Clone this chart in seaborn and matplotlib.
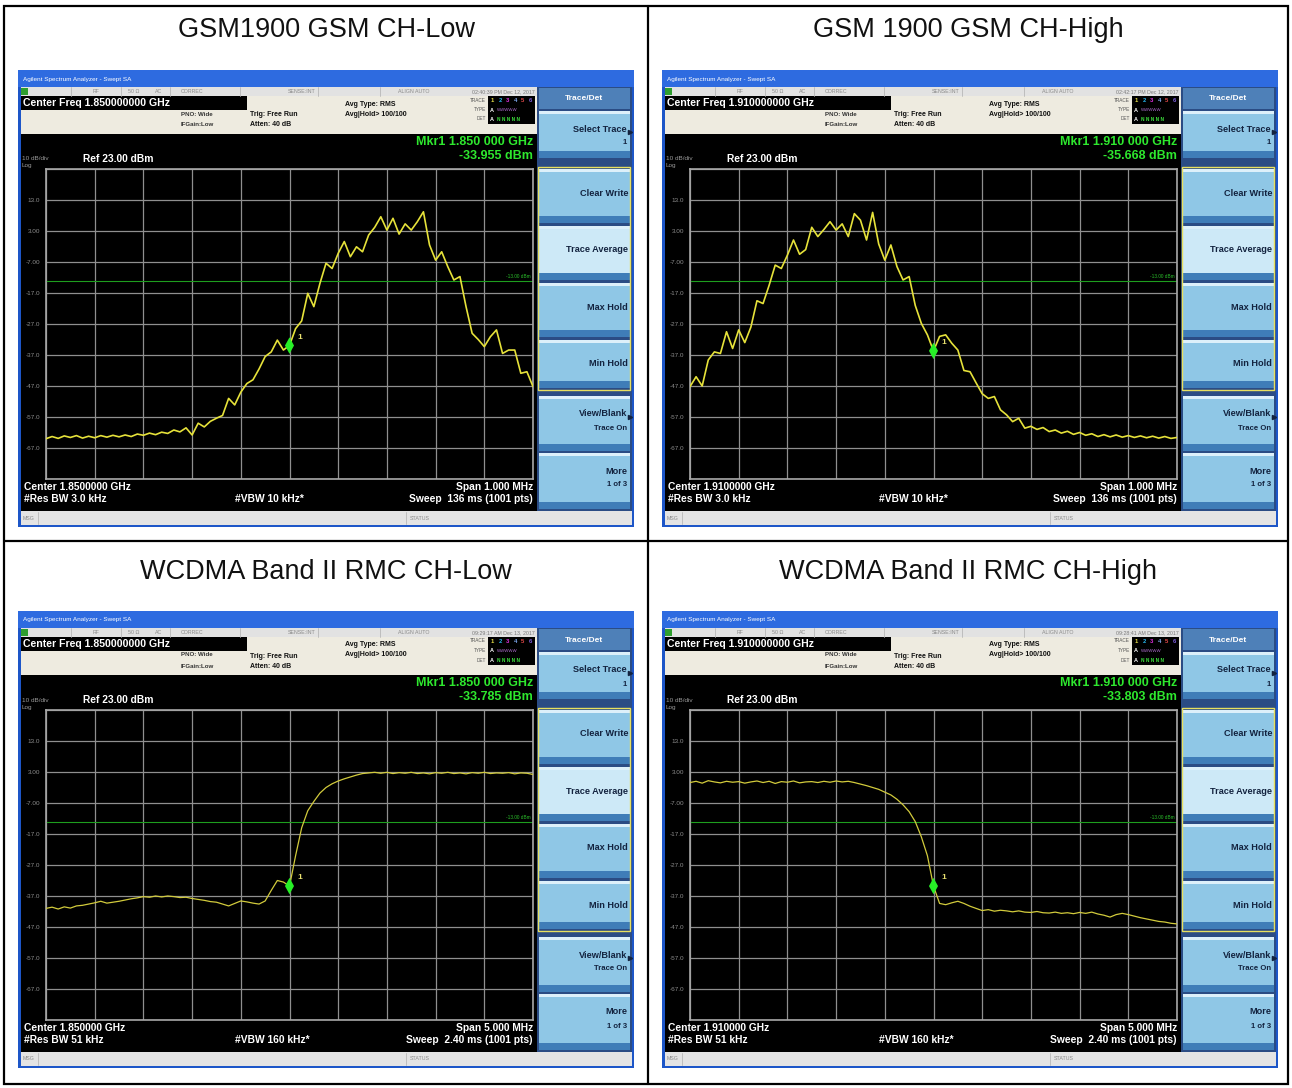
import numpy as np
import pandas as pd
import matplotlib
matplotlib.use("Agg")
import matplotlib.pyplot as plt
from matplotlib.patches import Rectangle
import seaborn as sns

# ---- values ----
titles = ["GSM1900 GSM CH-Low", "GSM 1900 GSM CH-High",
          "WCDMA Band II RMC CH-Low", "WCDMA Band II RMC CH-High"]
center_ghz = [1.85, 1.91, 1.85, 1.91]
span_mhz = [1.0, 1.0, 5.0, 5.0]
center_freq_text = ["1.850000000 GHz", "1.910000000 GHz", "1.850000000 GHz", "1.910000000 GHz"]
center_text = ["1.8500000 GHz", "1.9100000 GHz", "1.850000 GHz", "1.910000 GHz"]
timestamps = ["02:40:39 PM Dec 12, 2017", "02:42:17 PM Dec 12, 2017",
              "09:29:17 AM Dec 13, 2017", "09:28:41 AM Dec 13, 2017"]
mkr_freq_text = ["1.850 000 GHz", "1.910 000 GHz", "1.850 000 GHz", "1.910 000 GHz"]
mkr_dbm = [-33.955, -35.668, -33.785, -33.803]
rbw_text = ["3.0 kHz", "3.0 kHz", "51 kHz", "51 kHz"]
vbw_text = ["10 kHz*", "10 kHz*", "160 kHz*", "160 kHz*"]
sweep_text = ["136 ms (1001 pts)", "136 ms (1001 pts)", "2.40 ms (1001 pts)", "2.40 ms (1001 pts)"]
ref_level = 23.0
db_per_div = 10
limit_dbm = -13.0
ytick_labels = ["", "13.0", "3.00", "-7.00", "-17.0", "-27.0", "-37.0", "-47.0", "-57.0", "-67.0", ""]

# trace levels (dBm), sampled every 1/8 division across the span
gsm_low = [-64.0, -63.3, -63.9, -63.1, -63.6, -63.0, -63.8, -63.2,
           -63.7, -63.0, -63.5, -62.9, -63.4, -62.8, -63.3, -62.5,
           -62.9, -62.2, -62.7, -61.9, -62.3, -61.2, -61.8, -60.5,
           -62.8, -59.0, -60.2, -58.4, -57.4, -56.5, -51.0, -53.1,
           -49.0, -46.2, -45.0, -41.5, -37.5, -36.0, -32.2, -35.4,
           -33.9, -28.5, -26.0, -17.1, -21.4, -13.9, -7.4, -9.1,
           -4.2, -0.4, -5.3, -2.1, -3.7, 1.7, 4.2, 7.6,
           3.3, 7.1, 2.0, 5.3, 3.3, 6.0, 9.2, -1.5,
           -6.4, -3.7, -8.5, -12.8, -11.7, -21.4, -30.0, -32.0,
           -34.3, -31.1, -28.9, -36.5, -35.4, -35.4, -42.9, -42.4,
           -47.2]
gsm_high = [-47.2, -44.0, -47.0, -38.6, -36.0, -36.5, -29.5, -34.9,
            -28.9, -33.0, -28.0, -19.5, -20.4, -14.5, -8.0, -9.1,
            -4.8, 0.1, -4.5, -3.0, 4.2, 1.2, 3.5, 6.0,
            3.3, 5.3, 1.2, 8.6, 6.5, 0.1, 9.0, -1.2,
            -6.4, -1.5, -8.5, -12.8, -11.7, -21.0, -26.8, -30.5,
            -35.7, -31.0, -30.5, -33.2, -35.4, -42.0, -42.4, -46.0,
            -49.5, -51.0, -50.4, -54.7, -56.3, -58.5, -57.4, -60.6,
            -60.0, -61.0, -60.4, -61.7, -61.2, -62.2, -61.6, -62.6,
            -62.0, -62.9, -62.4, -63.3, -62.7, -63.4, -62.8, -63.5,
            -63.0, -63.6, -63.1, -63.7, -63.2, -63.8, -63.3, -63.9,
            -63.6]
wcdma_low = [-41.0, -40.6, -41.2, -40.5, -40.9, -40.2, -40.0, -39.6,
             -39.2, -38.7, -39.3, -39.0, -38.7, -38.3, -37.9, -37.6,
             -37.2, -37.4, -37.0, -37.3, -37.0, -37.2, -37.5, -37.4,
             -37.8, -38.1, -38.4, -38.8, -39.0, -39.6, -40.2, -39.4,
             -38.6, -38.9, -39.3, -39.6, -38.6, -35.2, -32.0, -32.5,
             -33.8, -24.0, -15.0, -9.5, -6.5, -3.8, -2.0, -0.8,
             0.1, 0.8, 1.4, 2.0, 2.5, 2.7, 2.9, 2.6,
             2.9, 2.5, 2.8, 2.6, 2.9, 2.5, 2.7, 2.4,
             2.8, 2.6, 2.9, 2.5, 2.7, 2.4, 2.8, 2.6,
             2.9, 2.5, 2.7, 2.6, 2.8, 2.4, 2.7, 2.6,
             2.2]
wcdma_high = [-0.4, 0.0, -0.6, 0.2, -0.2, -0.5, 0.0, -0.3,
              -0.1, -0.6, -0.2, 0.1, -0.4, 0.0, -0.7, -0.1,
              -0.3, 0.1, -0.5, -0.2, -0.1, -0.4, 0.0, -0.3,
              0.1, -0.2, 0.0, -0.4, -0.9, -1.4, -2.0, -2.6,
              -3.5, -4.4, -5.8, -7.6, -9.8, -13.0, -17.9, -24.0,
              -33.8, -39.4, -39.8, -39.2, -38.7, -39.4, -40.3, -41.0,
              -41.7, -41.4, -41.9, -41.6, -41.8, -42.1, -41.8, -42.2,
              -42.3, -42.0, -42.4, -42.5, -42.2, -42.6, -42.4, -42.7,
              -42.3, -42.6, -42.2, -42.8, -43.2, -43.8, -43.0, -42.6,
              -43.0, -43.5, -44.0, -44.4, -44.8, -45.2, -45.4, -45.8,
              -46.0]
traces = [gsm_low, gsm_high, wcdma_low, wcdma_high]
trace_colors = ["#E6E23A", "#E6E23A", "#D2CB3C", "#D2CB3C"]
trace_widths = [1.2, 1.2, 0.9, 0.9]

# ---- page layout (pixels) ----
W, H = 1292, 1088
origins = [(18, 70), (662, 70), (18, 611), (662, 611)]
title_pos = [(326, 30), (968, 30), (326, 572), (968, 572)]

sns.set_theme(style="white")
plt.rcParams['font.family'] = ['Liberation Sans', 'DejaVu Sans']

fig = plt.figure(figsize=(W / 100, H / 100), dpi=100)
bg = fig.add_axes([0, 0, 1, 1])
bg.set_xlim(0, W)
bg.set_ylim(H, 0)
bg.axis("off")


def rect(x, y, w, h, fc, ec="none", lw=0, fill=True, z=1):
    bg.add_patch(Rectangle((x, y), w, h, facecolor=fc if fill else "none",
                           edgecolor=ec, linewidth=lw, zorder=z))


def txt(x, y, s, size, color, weight="normal", ha="left"):
    bg.text(x, y, s, fontsize=size, color=color, fontweight=weight,
            ha=ha, va="center", zorder=5)


# table frame
bg.add_patch(Rectangle((4, 6), 1284, 1078, fill=False, edgecolor="black", linewidth=1.6))
bg.plot([648, 648], [6, 1084], color="black", lw=1.6)
bg.plot([4, 1288], [541, 541], color="black", lw=1.6)
for (tx, ty), t in zip(title_pos, titles):
    bg.text(tx, ty, t, fontsize=19.5, ha="center", va="center", color="#111111")

buttons = [(41, 47, "Select Trace", "1", True, "#8FC7E6"),
           (99, 54, "Clear Write", "", False, "#8FC7E6"),
           (156, 54, "Trace Average", "", False, "#CDE9F7"),
           (213, 54, "Max Hold", "", False, "#8FC7E6"),
           (270, 48, "Min Hold", "", False, "#8FC7E6"),
           (326, 55, "View/Blank", "Trace On", True, "#8FC7E6"),
           (383, 56, "More", "1 of 3", False, "#8FC7E6")]

for i, (ox, oy) in enumerate(origins):
    # window chrome
    rect(ox, oy, 616, 457, "#1D56C8")
    rect(ox, oy, 616, 17, "#2E6BE0")
    txt(ox + 5, oy + 9, "Agilent Spectrum Analyzer - Swept SA", 4.6, "white")
    rect(ox + 3, oy + 17, 516, 9, "#E2E2E2")
    rect(ox + 3, oy + 18, 7, 7, "#2E9E2E")
    for sx in [53, 103, 152, 222, 300, 362]:
        bg.plot([ox + sx, ox + sx], [oy + 17, oy + 26], color="#B8B8B8", lw=0.6, zorder=2)
    for sx, s in [(75, "RF"), (110, "50 \u03a9"), (137, "AC"), (163, "CORREC"),
                  (270, "SENSE:INT"), (380, "ALIGN AUTO")]:
        txt(ox + sx, oy + 21.5, s, 3.8, "#8A8A8A")
    txt(ox + 517, oy + 21.5, timestamps[i], 3.8, "#7A7A7A", ha="right")

    # settings area
    rect(ox + 3, oy + 26, 516, 38, "#EEEBE0")
    rect(ox + 3, oy + 26, 226, 14, "black")
    txt(ox + 5, oy + 33, "Center Freq " + center_freq_text[i], 7.6, "white", "bold")
    txt(ox + 163, oy + 44, "PNO: Wide", 4.4, "#333333", "bold")
    txt(ox + 163, oy + 55, "IFGain:Low", 4.4, "#333333", "bold")
    txt(ox + 232, oy + 45, "Trig: Free Run", 5.0, "#111111", "bold")
    txt(ox + 232, oy + 55, "Atten: 40 dB", 5.0, "#111111", "bold")
    txt(ox + 327, oy + 34, "Avg Type: RMS", 5.0, "#111111", "bold")
    txt(ox + 327, oy + 44, "Avg|Hold> 100/100", 5.0, "#111111", "bold")
    for ly, s in [(30, "TRACE"), (39.5, "TYPE"), (49, "DET")]:
        txt(ox + 468, oy + ly, s, 3.4, "#555555", ha="right")
    rect(ox + 470, oy + 26, 47, 28, "black")
    for k, c in enumerate(["#E8E048", "#27B8F0", "#E030E0", "#7FA8F0", "#E04848", "#8060E0"]):
        txt(ox + 473 + k * 7.5, oy + 30.5, str(k + 1), 4.2, c, "bold")
    txt(ox + 472, oy + 40, "A", 4.0, "white", "bold")
    txt(ox + 479, oy + 40, "WWWWW", 3.2, "#B070D0")
    txt(ox + 472, oy + 49.5, "A", 4.0, "white", "bold")
    txt(ox + 479, oy + 49.5, "N N N N N", 3.4, "#3CE03C", "bold")

    # display area
    rect(ox + 3, oy + 64, 516, 377, "black")
    txt(ox + 515, oy + 72, "Mkr1 " + mkr_freq_text[i], 9.0, "#2EE82E", "bold", "right")
    txt(ox + 515, oy + 86, f"{mkr_dbm[i]:.3f} dBm", 9.0, "#2EE82E", "bold", "right")
    txt(ox + 4, oy + 89, "10 dB/div", 4.6, "#9A9A9A")
    txt(ox + 4, oy + 96, "Log", 4.6, "#9A9A9A")
    txt(ox + 65, oy + 89, f"Ref {ref_level:.2f} dBm", 7.4, "white", "bold")
    txt(ox + 6, oy + 417, "Center " + center_text[i], 7.4, "white", "bold")
    txt(ox + 6, oy + 429, "#Res BW " + rbw_text[i], 7.4, "white", "bold")
    txt(ox + 217, oy + 429, "#VBW " + vbw_text[i], 7.4, "white", "bold")
    txt(ox + 515, oy + 417, f"Span {span_mhz[i]:.3f} MHz", 7.4, "white", "bold", "right")
    txt(ox + 515, oy + 429, "Sweep  " + sweep_text[i], 7.4, "white", "bold", "right")

    # message bar
    rect(ox + 3, oy + 441, 611, 14, "#E4E4E4")
    bg.plot([ox + 20, ox + 20], [oy + 442, oy + 454], color="#B8B8B8", lw=0.6, zorder=2)
    bg.plot([ox + 388, ox + 388], [oy + 442, oy + 454], color="#B8B8B8", lw=0.6, zorder=2)
    txt(ox + 5, oy + 448, "MSG", 3.8, "#8A8A8A")
    txt(ox + 392, oy + 448, "STATUS", 3.8, "#8A8A8A")

    # softkey column
    rect(ox + 519, oy + 17, 95, 424, "#2B4C84")
    rect(ox + 521, oy + 18, 91, 21, "#4E80B8")
    txt(ox + 566, oy + 29, "Trace/Det", 6.0, "white", "bold", "center")
    for top, hgt, lab, sub, arrow, face in buttons:
        rect(ox + 521, oy + top, 91, hgt, face)
        rect(ox + 521, oy + top, 91, 3, "#DDF0FA")
        rect(ox + 521, oy + top + hgt - 7, 91, 7, "#3F7DB8")
        if sub:
            txt(ox + 609, oy + top + 18, lab, 6.6, "#13233F", "bold", "right")
            txt(ox + 609, oy + top + 32, sub, 5.6, "#13233F", "bold", "right")
        else:
            txt(ox + 610, oy + top + 24, lab, 6.6, "#13233F", "bold", "right")
        if arrow:
            bg.plot(ox + 612, oy + top + 21, marker=">", ms=3, color="#13233F", zorder=6)
    rect(ox + 520, oy + 97, 92, 223, "none", ec="#E8E060", lw=1.0, fill=False, z=3)

    # trace axes
    ax = fig.add_axes([(ox + 28) / W, 1 - (oy + 409) / H, 487 / W, 310 / H])
    ax.set_facecolor("black")
    f0 = center_ghz[i] * 1000
    lo, hi = f0 - span_mhz[i] / 2, f0 + span_mhz[i] / 2
    df = pd.DataFrame({"freq_mhz": np.linspace(lo, hi, len(traces[i])),
                       "level_dbm": traces[i]})
    sns.lineplot(data=df, x="freq_mhz", y="level_dbm", color=trace_colors[i],
                 lw=trace_widths[i], ax=ax, zorder=3)
    ax.axhline(limit_dbm, color="#1E9E1E", lw=0.8, zorder=2)
    ax.text(0.996, limit_dbm + 0.6, f"{limit_dbm:.2f} dBm", transform=ax.get_yaxis_transform(),
            ha="right", va="bottom", fontsize=3.4, color="#2BC02B")
    mk = pd.DataFrame({"freq_mhz": [f0], "level_dbm": [mkr_dbm[i]]})
    sns.scatterplot(data=mk, x="freq_mhz", y="level_dbm", ax=ax, color="#27F027",
                    marker=[(0, 1), (0.55, 0), (0, -1), (-0.55, 0)], s=140,
                    edgecolor="none", zorder=5)
    ax.annotate("1", (f0, mkr_dbm[i]), xytext=(6, 5), textcoords="offset points",
                fontsize=6, color="#E8E070", fontweight="bold")

    yticks = [ref_level - db_per_div * k for k in range(11)]
    ax.set_xlim(lo, hi)
    ax.set_ylim(yticks[-1], yticks[0])
    ax.set_xticks(np.linspace(lo, hi, 11))
    ax.set_xticklabels([])
    ax.set_yticks(yticks)
    ax.set_yticklabels(ytick_labels)
    ax.tick_params(axis="both", length=0, pad=4, labelsize=4.6, labelcolor="#8C8C8C")
    ax.grid(True, color="#8F8F8F", lw=0.9)
    ax.set_xlabel("")
    ax.set_ylabel("")
    for sp in ax.spines.values():
        sp.set_color("#A8A8A8")
        sp.set_linewidth(1.2)

fig.savefig("out.png", dpi=100)
